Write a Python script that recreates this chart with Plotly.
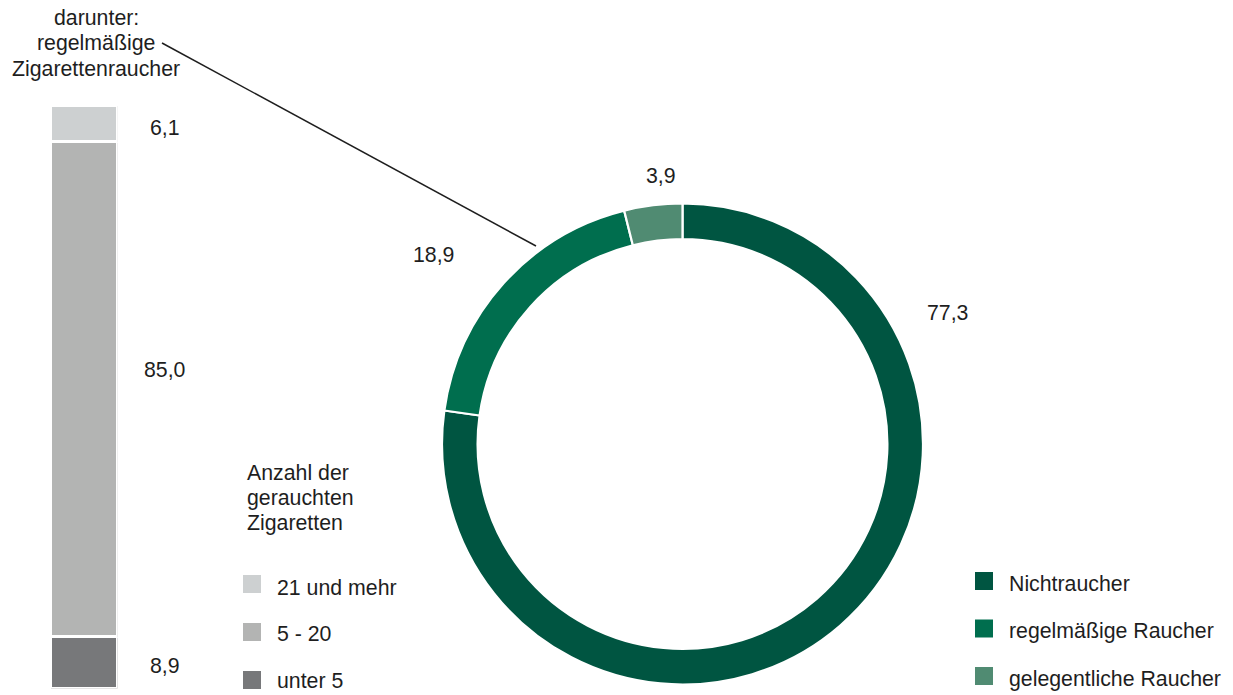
import plotly.graph_objects as go

W, H = 1233, 695

# ---- data ----
pie_labels = ["Nichtraucher", "regelmäßige Raucher", "gelegentliche Raucher"]
pie_values = [77.3, 18.9, 3.9]
pie_colors = ["#005541", "#006e4e", "#508b72"]

bar_labels = ["unter 5", "5 - 20", "21 und mehr"]   # bottom to top
bar_values = [8.9, 85.0, 6.1]
bar_colors = ["#77787a", "#b3b4b3", "#cdd0d1"]

bar_title = ["darunter:", "regelmäßige", "Zigarettenraucher"]
legend_title = ["Anzahl der", "gerauchten", "Zigaretten"]

TXT = "#1e1e1e"
FONT = "Liberation Sans, Arial, sans-serif"
FS = 21.3


def px(x):
    return x / W


def py(y):
    return 1 - y / H


def fmt(v):
    return f"{v:.1f}".replace(".", ",")


fig = go.Figure()

# stacked bar
for lab, val, col in zip(bar_labels, bar_values, bar_colors):
    fig.add_trace(go.Bar(
        x=[0], y=[val], name=lab, marker=dict(color=col, line=dict(color="white", width=2.5)),
        width=1, showlegend=False, hoverinfo="skip", xaxis="x", yaxis="y",
    ))

# donut
cx, cy, r = 682.5, 444, 240.5
fig.add_trace(go.Pie(
    labels=pie_labels, values=pie_values, hole=0.852, sort=False, direction="clockwise",
    rotation=0, marker=dict(colors=pie_colors, line=dict(color="white", width=2.2)),
    textinfo="none", showlegend=False, hoverinfo="skip",
    domain=dict(x=[px(cx - r), px(cx + r)], y=[py(cy + r), py(cy - r)]),
))

ann = []
shapes = []

# bar value labels
bar_label_y = [666, 370, 128]
for val, yy in zip(bar_values, bar_label_y):
    ann.append(dict(x=px(165), y=py(yy), xref="paper", yref="paper", text=fmt(val),
                    showarrow=False, xanchor="center", yanchor="middle"))

# pie value labels
pie_label_pos = [(948, 313), (433, 255), (661, 176)]
for val, (xx, yy) in zip(pie_values, pie_label_pos):
    ann.append(dict(x=px(xx), y=py(yy), xref="paper", yref="paper", text=fmt(val),
                    showarrow=False, xanchor="center", yanchor="middle"))

# bar title (3 lines)
for i, t in enumerate(bar_title):
    ann.append(dict(x=px(96), y=py(18 + 25.5 * i), xref="paper", yref="paper", text=t,
                    showarrow=False, xanchor="center", yanchor="middle"))

# legend title
for i, t in enumerate(legend_title):
    ann.append(dict(x=px(245), y=py(473 + 25 * i), xref="paper", yref="paper", text=t,
                    showarrow=False, xanchor="left", yanchor="middle"))

# bar legend (top to bottom: 21 und mehr, 5 - 20, unter 5)
box_y = [584, 632, 680]
text_y = [588, 634, 680.5]
for i, (lab, col) in enumerate(zip(bar_labels[::-1], bar_colors[::-1])):
    yc = box_y[i]
    shapes.append(dict(type="rect", xref="paper", yref="paper", x0=px(243), x1=px(261),
                       y0=py(yc + 9), y1=py(yc - 9), fillcolor=col, line=dict(width=0)))
    ann.append(dict(x=px(275), y=py(text_y[i]), xref="paper", yref="paper", text=lab,
                    showarrow=False, xanchor="left", yanchor="middle"))

# pie legend
for i, (lab, col) in enumerate(zip(pie_labels, pie_colors)):
    yc = 581 + 47.5 * i
    shapes.append(dict(type="rect", xref="paper", yref="paper", x0=px(975), x1=px(993),
                       y0=py(yc + 9), y1=py(yc - 9), fillcolor=col, line=dict(width=0)))
    ann.append(dict(x=px(1007), y=py(yc + 2.5), xref="paper", yref="paper", text=lab,
                    showarrow=False, xanchor="left", yanchor="middle"))

# connector line
shapes.append(dict(type="line", xref="paper", yref="paper", x0=px(162), y0=py(43),
                   x1=px(536), y1=py(246), line=dict(color="#1e1e1e", width=1.5)))

for a in ann:
    a["font"] = dict(family=FONT, size=FS, color=TXT)

fig.update_layout(
    width=W, height=H, margin=dict(l=0, r=0, t=0, b=0, pad=0),
    paper_bgcolor="white", plot_bgcolor="white",
    barmode="stack", bargap=0,
    xaxis=dict(domain=[px(50.8), px(117.7)], range=[-0.5, 0.5], visible=False, fixedrange=True),
    yaxis=dict(domain=[py(688.3), py(105.8)], range=[0, sum(bar_values)], visible=False, fixedrange=True),
    annotations=ann, shapes=shapes, showlegend=False,
    font=dict(family=FONT, size=FS, color=TXT),
)

fig.write_html("out.html")
